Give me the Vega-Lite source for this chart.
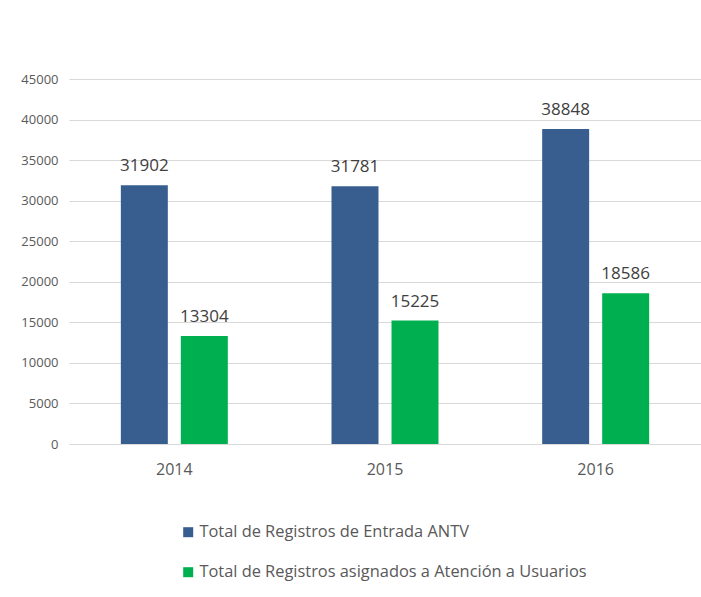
{
  "$schema": "https://vega.github.io/schema/vega-lite/v6.json",
  "width": 632,
  "height": 365,
  "padding": {"left": 69, "top": 79, "right": 0, "bottom": 153},
  "autosize": {"type": "none"},
  "background": "white",
  "config": {
    "view": {"stroke": null},
    "font": "Open Sans"
  },
  "data": {
    "values": [
      {"year": "2014", "serie": "Total de Registros de Entrada ANTV", "valor": 31902},
      {"year": "2014", "serie": "Total de Registros asignados a Atención a Usuarios", "valor": 13304},
      {"year": "2015", "serie": "Total de Registros de Entrada ANTV", "valor": 31781},
      {"year": "2015", "serie": "Total de Registros asignados a Atención a Usuarios", "valor": 15225},
      {"year": "2016", "serie": "Total de Registros de Entrada ANTV", "valor": 38848},
      {"year": "2016", "serie": "Total de Registros asignados a Atención a Usuarios", "valor": 18586}
    ]
  },
  "encoding": {
    "x": {
      "field": "year", "type": "nominal",
      "scale": {"paddingInner": 0, "paddingOuter": 0},
      "axis": {"title": null, "labelAngle": 0, "ticks": false, "domain": false, "labelFontSize": 16, "labelColor": "#595959", "labelPadding": 17}
    },
    "xOffset": {
      "field": "serie", "type": "nominal",
      "sort": ["Total de Registros de Entrada ANTV", "Total de Registros asignados a Atención a Usuarios"],
      "scale": {"paddingInner": 0.217, "paddingOuter": 0.864}
    },
    "y": {
      "field": "valor", "type": "quantitative",
      "scale": {"domain": [0, 45000], "nice": false},
      "axis": {"title": null, "values": [0, 5000, 10000, 15000, 20000, 25000, 30000, 35000, 40000, 45000], "format": "d", "ticks": false, "domain": false, "gridColor": "#d9d9d9", "labelFontSize": 13, "labelColor": "#595959", "labelPadding": 11}
    }
  },
  "layer": [
    {
      "mark": {"type": "bar"},
      "encoding": {
        "color": {
          "field": "serie", "type": "nominal",
          "scale": {"domain": ["Total de Registros de Entrada ANTV", "Total de Registros asignados a Atención a Usuarios"], "range": ["#375E8F", "#00B050"]},
          "legend": {
            "title": null, "orient": "none", "legendX": 111, "legendY": 445,
            "symbolType": "square", "symbolSize": 100, "symbolStrokeWidth": 0,
            "labelFontSize": 16.4, "labelColor": "#595959", "rowPadding": 23, "labelLimit": 600, "labelOffset": 3
          }
        }
      }
    },
    {
      "mark": {"type": "text", "baseline": "bottom", "dy": -10, "fontSize": 17, "color": "#404040"},
      "encoding": {"text": {"field": "valor", "type": "quantitative", "format": "d"}}
    }
  ]
}
